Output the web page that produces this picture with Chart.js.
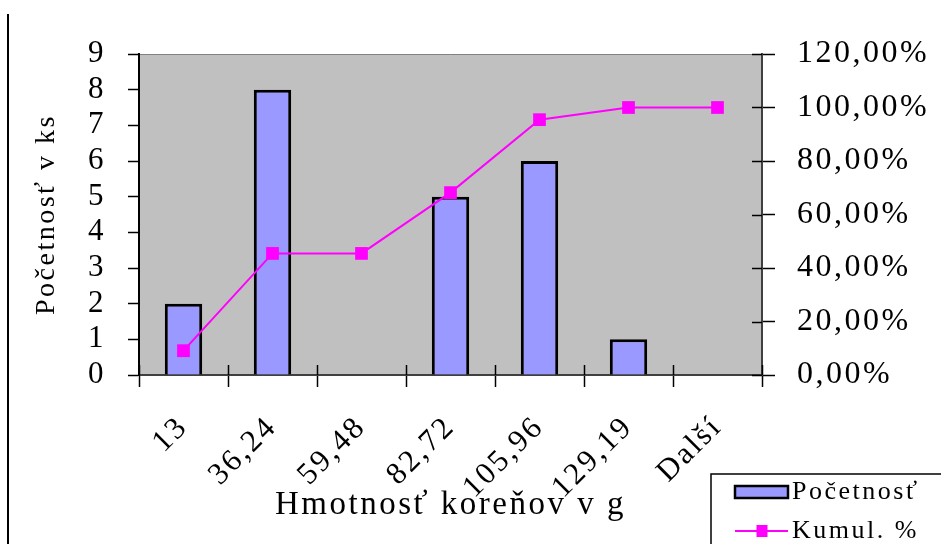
<!DOCTYPE html>
<html>
<head>
<meta charset="utf-8">
<script src="https://cdn.jsdelivr.net/npm/chart.js@4"></script>
<style>
  html, body { margin: 0; padding: 0; background: #ffffff; overflow: hidden; }
  #chart { display: block; }
</style>
</head>
<body>
<canvas id="chart" width="941" height="544"></canvas>
<script>
// Histogram of root weights: class upper bounds, counts and cumulative share
const categories = ['13', '36,24', '59,48', '82,72', '105,96', '129,19', 'Další'];
const counts = [2, 8, 0, 5, 6, 1, 0];
const cumulativePct = [9.09, 45.45, 45.45, 68.18, 95.45, 100, 100];
const pctTickLabels = ['0,00%', '20,00%', '40,00%', '60,00%', '80,00%', '100,00%', '120,00%'];

const SERIF = '"Liberation Serif", "Times New Roman", Times, serif';
const TRACKING = '2.5px';

// slightly wider letter spacing for every text drawn on the canvas
const tracking = {
  id: 'tracking',
  beforeUpdate(chart) { chart.ctx.letterSpacing = TRACKING; },
  beforeDraw(chart) { chart.ctx.letterSpacing = TRACKING; }
};

// grey plot area, its top edge, the page rule on the left and the inner halves of the tick marks
const plotFrame = {
  id: 'plotFrame',
  beforeDraw(chart) {
    const { ctx, chartArea: a } = chart;
    ctx.save();
    ctx.fillStyle = '#c0c0c0';
    ctx.fillRect(a.left, a.top, a.right - a.left, a.bottom - a.top);
    ctx.strokeStyle = '#808080';
    ctx.lineWidth = 1;
    ctx.beginPath();
    ctx.moveTo(a.left, a.top + 0.5);
    ctx.lineTo(a.right, a.top + 0.5);
    ctx.stroke();
    ctx.strokeStyle = '#000000';
    ctx.lineWidth = 2;
    ctx.beginPath();
    ctx.moveTo(8, 14);
    ctx.lineTo(8, chart.height);
    ctx.stroke();
    ctx.restore();
  },
  afterDraw(chart) {
    const { ctx, chartArea: a, scales } = chart;
    ctx.save();
    ctx.strokeStyle = '#000000';
    ctx.lineWidth = 1.5;
    ctx.beginPath();
    scales.y1.ticks.forEach(t => {
      const y = Math.round(scales.y1.getPixelForValue(t.value)) + 0.5;
      ctx.moveTo(a.right - 10, y);
      ctx.lineTo(a.right, y);
    });
    const n = categories.length;
    for (let i = 0; i <= n; i++) {
      const x = Math.round(a.left + i * (a.right - a.left) / n) + 0.5;
      ctx.moveTo(x, a.bottom - 10);
      ctx.lineTo(x, a.bottom);
    }
    ctx.stroke();
    ctx.restore();
  }
};

// boxed legend in the lower right corner
const boxLegend = {
  id: 'boxLegend',
  afterDraw(chart) {
    const { ctx } = chart;
    const o = chart.options.plugins.boxLegend;
    const [bars, line] = chart.data.datasets;
    ctx.save();
    ctx.strokeStyle = '#000000';
    ctx.lineWidth = 1.5;
    ctx.strokeRect(o.x, o.y, o.w, o.h);

    // bar swatch
    ctx.fillStyle = bars.backgroundColor;
    ctx.fillRect(o.swX, o.row1 - 6, o.swW, 12);
    ctx.lineWidth = 2.5;
    ctx.strokeStyle = bars.borderColor;
    ctx.strokeRect(o.swX, o.row1 - 6, o.swW, 12);

    // line swatch with marker
    ctx.strokeStyle = line.borderColor;
    ctx.lineWidth = 2;
    ctx.beginPath();
    ctx.moveTo(o.swX, o.row2);
    ctx.lineTo(o.swX + o.swW, o.row2);
    ctx.stroke();
    ctx.fillStyle = line.backgroundColor;
    ctx.fillRect(o.swX + o.swW / 2 - 5, o.row2 - 6, 11, 12);

    ctx.fillStyle = '#000000';
    ctx.font = o.fontSize + 'px ' + SERIF;
    ctx.textAlign = 'left';
    ctx.textBaseline = 'middle';
    ctx.fillText(bars.label, o.textX, o.row1);
    ctx.fillText(line.label, o.textX, o.row2);
    ctx.restore();
  }
};

new Chart(document.getElementById('chart'), {
  type: 'bar',
  data: {
    labels: categories,
    datasets: [
      {
        type: 'bar',
        label: 'Početnosť',
        data: counts,
        yAxisID: 'y',
        backgroundColor: '#9999ff',
        borderColor: '#000000',
        borderWidth: 3,
        borderSkipped: 'start',
        categoryPercentage: 1,
        barPercentage: 0.42,
        order: 1
      },
      {
        type: 'line',
        label: 'Kumul. %',
        data: cumulativePct,
        yAxisID: 'y1',
        borderColor: '#ff00ff',
        backgroundColor: '#ff00ff',
        borderWidth: 2,
        pointStyle: 'rect',
        pointRadius: 9,
        pointBorderWidth: 0,
        tension: 0,
        order: 0
      }
    ]
  },
  options: {
    responsive: false,
    devicePixelRatio: 1,
    animation: false,
    layout: { padding: { top: 54, left: 0, right: 0, bottom: 0 } },
    plugins: {
      legend: { display: false },
      tooltip: { enabled: false },
      boxLegend: { x: 711, y: 474, w: 240, h: 80, swX: 735, swW: 53, textX: 792, row1: 492, row2: 531, fontSize: 26 }
    },
    scales: {
      x: {
        offset: true,
        grid: { offset: true, drawOnChartArea: false, drawTicks: true, tickLength: 12, tickColor: '#000000', tickWidth: 1.5 },
        border: { color: '#404040', width: 2 },
        ticks: { color: '#000000', font: { family: SERIF, size: 31 }, minRotation: 45, maxRotation: 45, autoSkip: false, padding: 22 },
        title: { display: true, text: 'Hmotnosť koreňov v g', color: '#000000', font: { family: SERIF, size: 33 }, padding: { top: 0, bottom: 19 } },
        afterFit(scale) { scale.height = 169; }
      },
      y: {
        position: 'left',
        min: 0,
        max: 9,
        grid: { drawOnChartArea: false, tickLength: 11, tickColor: '#000000', tickWidth: 1.5 },
        border: { color: '#000000', width: 2 },
        ticks: { stepSize: 1, autoSkip: false, maxTicksLimit: 20, color: '#000000', font: { family: SERIF, size: 31, lineHeight: 1 }, padding: 22 },
        title: { display: true, text: 'Početnosť v ks', color: '#000000', font: { family: SERIF, size: 28 }, padding: { top: 30, bottom: 0 } },
        afterFit(scale) { scale.width = 139; }
      },
      y1: {
        position: 'right',
        min: 0,
        max: 120,
        grid: { drawOnChartArea: false, tickLength: 13, tickColor: '#000000', tickWidth: 1.5 },
        border: { color: '#404040', width: 2 },
        ticks: { stepSize: 20, color: '#000000', font: { family: SERIF, size: 32 }, padding: 22, callback: (v, i) => pctTickLabels[i] },
        afterFit(scale) { scale.width = 179; }
      }
    }
  },
  plugins: [tracking, plotFrame, boxLegend]
});
</script>
</body>
</html>
